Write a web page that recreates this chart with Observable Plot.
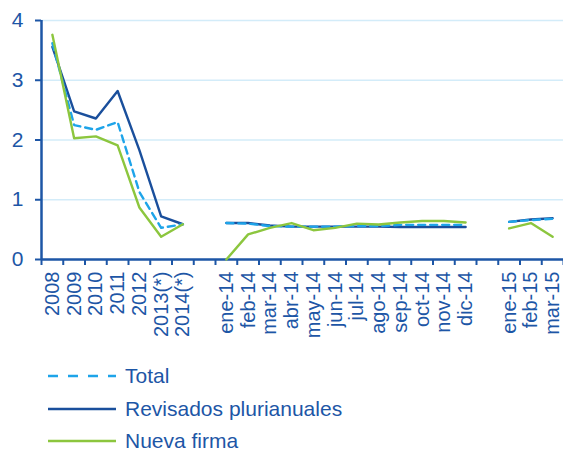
<!DOCTYPE html>
<html>
<head>
<meta charset="utf-8">
<script src="https://cdn.jsdelivr.net/npm/d3@7"></script>
<script src="https://cdn.jsdelivr.net/npm/@observablehq/plot@0.6"></script>
<style>
  body { margin: 0; background: #fff; font-family: "Liberation Sans", Arial, sans-serif; }
  #chart { width: 563px; }
  .legend { padding-top: 5px; padding-left: 48px; color: #1d56a6; font-size: 21px; }
  .legend .row { display: flex; align-items: center; height: 32.5px; }
  .legend svg { margin-right: 7px; }
</style>
</head>
<body>
<div id="chart"></div>
<script>
const categories = ["2008","2009","2010","2011","2012","2013(*)","2014(*)","",
  "ene-14","feb-14","mar-14","abr-14","may-14","jun-14","jul-14","ago-14","sep-14","oct-14","nov-14","dic-14","",
  "ene-15","feb-15","mar-15"];
const total = [3.62,2.25,2.17,2.30,1.13,0.53,0.59,null,
  0.61,0.60,0.56,0.55,0.55,0.55,0.56,0.56,0.58,0.58,0.58,0.58,null,
  0.63,0.66,0.68];
const revisados = [3.56,2.48,2.36,2.82,1.83,0.72,0.59,null,
  0.61,0.61,0.57,0.55,0.55,0.55,0.55,0.55,0.545,0.545,0.545,0.545,null,
  0.63,0.67,0.69];
const nueva = [3.76,2.03,2.06,1.91,0.87,0.38,0.59,null,
  0.0,0.42,0.53,0.61,0.49,0.53,0.60,0.585,0.62,0.645,0.645,0.62,null,
  0.52,0.61,0.38];
const yTicks = [0,1,2,3,4];
const seriesNames = ["Total","Revisados plurianuales","Nueva firma"];

const textColor = "#1d56a6";
const cTotal = "#1ea4e9", cRev = "#1a4f9c", cNueva = "#8cc63e";

const rows = categories.map((c, i) => ({x: i + 0.5, cat: c, total: total[i], revisados: revisados[i], nueva: nueva[i]}));
const n = categories.length;

const chart = Plot.plot({
  width: 563,
  height: 355,
  marginLeft: 41,
  marginRight: 0,
  marginTop: 20,
  marginBottom: 96,
  style: {fontFamily: "'Liberation Sans', Arial, sans-serif", fontSize: "20px", color: textColor, background: "#fff", overflow: "visible"},
  x: {type: "linear", domain: [0, n], axis: null},
  y: {domain: [0, 4], axis: null},
  marks: [
    Plot.ruleY(yTicks.filter(d => d > 0), {stroke: "#d3ecf9", strokeWidth: 1.5}),
    Plot.axisY(yTicks, {tickSize: 6, tickPadding: 12, label: null, tickFormat: d => String(d), stroke: textColor, strokeWidth: 2, fill: textColor, fontSize: 21}),
    Plot.axisX(d3.range(0, n + 1), {tickSize: 6, label: null, tickFormat: null, text: null, stroke: textColor, strokeWidth: 2}),
    Plot.axisX(d3.range(0, n).map(i => i + 0.5), {tickSize: 0, tickPadding: 12, label: null, tickRotate: -90, tickFormat: d => categories[Math.floor(d)], fill: textColor, fontSize: 20}),
    Plot.ruleX([0], {y1: 0, y2: 4, stroke: textColor, strokeWidth: 2.5}),
    Plot.ruleY([0], {stroke: textColor, strokeWidth: 2.5}),
    Plot.line(rows, {x: "x", y: "revisados", stroke: cRev, strokeWidth: 2.4}),
    Plot.line(rows, {x: "x", y: "total", stroke: cTotal, strokeWidth: 2.4, strokeDasharray: "7,5"}),
    Plot.line(rows, {x: "x", y: "nueva", stroke: cNueva, strokeWidth: 2.4})
  ]
});
document.getElementById("chart").appendChild(chart);

const legend = document.createElement("div");
legend.className = "legend";
const styles = [
  {color: cTotal, dash: "10,10"},
  {color: cRev, dash: null},
  {color: cNueva, dash: null}
];
seriesNames.forEach((name, i) => {
  const row = document.createElement("div");
  row.className = "row";
  const s = styles[i];
  row.innerHTML = `<svg width="70" height="10"><line x1="0" y1="5" x2="68" y2="5" stroke="${s.color}" stroke-width="2.5" ${s.dash ? `stroke-dasharray="${s.dash}"` : ""}/></svg><span>${name}</span>`;
  legend.appendChild(row);
});
document.getElementById("chart").appendChild(legend);
</script>
</body>
</html>
